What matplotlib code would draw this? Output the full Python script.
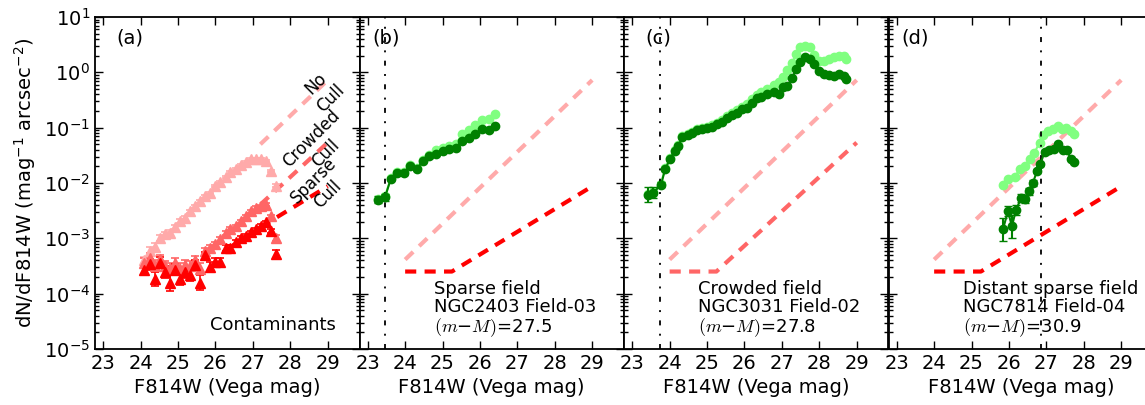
import numpy as np
import matplotlib
matplotlib.use('Agg')
import matplotlib.pyplot as plt

plt.rcParams['font.family'] = 'DejaVu Sans'
plt.rcParams['mathtext.fontset'] = 'cm'
plt.rcParams['mathtext.default'] = 'regular'
plt.rcParams['lines.scale_dashes'] = False

################################################################################
# data (log10 of dN/dF814W)
################################################################################
# panel (a): contaminants
mag_a = [24.10, 24.24, 24.38, 24.51, 24.65, 24.78, 24.92, 25.05, 25.19, 25.32,
         25.46, 25.59, 25.73, 25.86, 26.00, 26.13, 26.27, 26.40, 26.54, 26.67,
         26.81, 26.94, 27.08, 27.21, 27.35, 27.48, 27.62]
nocull_a = [-3.40, -3.22, -3.15, -2.99, -2.93, -2.90, -2.79, -2.69, -2.63, -2.51,
            -2.42, -2.33, -2.24, -2.18, -2.06, -1.98, -1.89, -1.81, -1.74, -1.68,
            -1.62, -1.57, -1.56, -1.57, -1.60, -1.78, -2.05]
nocull_err = [0.07, 0.06, 0.06, 0.05, 0.05, 0.05, 0.04, 0.04, 0.04, 0.03,
              0.03, 0.03, 0.03, 0.02, 0.02, 0.02, 0.02, 0.02, 0.02, 0.02,
              0.02, 0.02, 0.02, 0.02, 0.02, 0.02, 0.03]
crowd_a = [-3.45, -3.35, -3.50, -3.38, -3.50, -3.55, -3.45, -3.55, -3.48, -3.50,
           -3.40, -3.55, -3.23, -3.18, -3.11, -3.02, -2.90, -2.84, -2.78, -2.69,
           -2.60, -2.51, -2.45, -2.42, -2.39, -2.60, -2.99]
crowd_err = [0.09, 0.08, 0.10, 0.08, 0.09, 0.10, 0.09, 0.10, 0.09, 0.09,
             0.08, 0.10, 0.06, 0.06, 0.05, 0.05, 0.04, 0.04, 0.03, 0.03,
             0.03, 0.03, 0.03, 0.03, 0.03, 0.03, 0.05]
sparse_a = [-3.57, -3.47, -3.73, -3.44, -3.61, -3.81, -3.57, -3.73, -3.61, -3.66,
            -3.49, -3.80, -3.31, -3.52, -3.43, -3.43, -3.17, -3.17, -3.07, -2.99,
            -2.96, -2.89, -2.84, -2.77, -2.71, -2.87, -3.29]
sparse_err = [0.10, 0.10, 0.13, 0.10, 0.11, 0.14, 0.10, 0.12, 0.10, 0.11,
              0.09, 0.14, 0.07, 0.09, 0.08, 0.08, 0.05, 0.05, 0.04, 0.04,
              0.03, 0.03, 0.03, 0.03, 0.03, 0.04, 0.08]

# contaminant model lines (mag knots, log10 values)
model_mag = [24.0, 25.25, 29.0]
nocull_model = [-3.384, -2.572, -0.14]
crowd_model = [-3.60, -3.60, -1.27]
sparse_model = [-3.60, -3.60, -2.06]
model_mag_a = [27.2, 29.0]
nocull_model_a = [-1.30, -0.14]
crowd_model_a = [-2.39, -1.27]
sparse_model_a = [-2.80, -2.06]

# panel (b): NGC2403 Field-03
mag_b = [23.28, 23.46, 23.62, 23.79, 23.97, 24.13, 24.31, 24.49, 24.65, 24.83,
         25.01, 25.17, 25.35, 25.53, 25.71, 25.87, 26.05, 26.23, 26.39]
all_b = [-2.29, -2.24, -1.91, -1.81, -1.80, -1.68, -1.72, -1.58, -1.49, -1.40,
         -1.36, -1.33, -1.30, -1.12, -1.05, -0.96, -0.87, -0.84, -0.76]
cull_b = [-2.30, -2.26, -1.92, -1.82, -1.82, -1.69, -1.74, -1.60, -1.52, -1.48,
          -1.42, -1.38, -1.36, -1.24, -1.18, -1.11, -1.03, -1.05, -0.97]
err_b = [0.06, 0.06, 0.03, 0.03, 0.03, 0.02, 0.02, 0.02, 0.02, 0.02,
         0.02, 0.02, 0.02, 0.01, 0.01, 0.01, 0.01, 0.01, 0.01]

# panel (c): NGC3031 Field-02
mag_c = [23.43, 23.56, 23.77, 23.88, 24.01, 24.13, 24.23, 24.34, 24.48, 24.61,
         24.73, 24.86, 25.00, 25.14, 25.27, 25.40, 25.54, 25.67, 25.81, 25.94,
         26.07, 26.21, 26.34, 26.45, 26.60, 26.78, 26.91, 27.04, 27.15, 27.27,
         27.38, 27.49, 27.63, 27.76, 27.87, 27.98, 28.12, 28.25, 28.39, 28.52,
         28.65, 28.72]
all_c = [-2.20, -2.16, -2.01, -1.73, -1.55, -1.40, -1.31, -1.15, -1.11, -1.07,
         -1.03, -1.00, -0.98, -0.95, -0.91, -0.86, -0.79, -0.73, -0.68, -0.62,
         -0.58, -0.49, -0.41, -0.36, -0.30, -0.22, -0.18, -0.09, 0.04, 0.16,
         0.33, 0.46, 0.48, 0.45, 0.31, 0.21, 0.21, 0.24, 0.27, 0.30,
         0.29, 0.25]
cull_c = [-2.21, -2.18, -2.03, -1.75, -1.57, -1.42, -1.33, -1.17, -1.13, -1.09,
          -1.05, -1.02, -1.00, -0.98, -0.94, -0.89, -0.83, -0.77, -0.73, -0.67,
          -0.64, -0.55, -0.47, -0.44, -0.39, -0.36, -0.39, -0.27, -0.24, -0.11,
          0.06, 0.18, 0.27, 0.25, 0.15, 0.03, -0.03, -0.05, -0.06, -0.03,
          -0.07, -0.12]
err_c = [0.13, 0.10, 0.05, 0.03, 0.02, 0.02, 0.02, 0.01, 0.01, 0.01,
         0.01, 0.01, 0.01, 0.01, 0.01, 0.01, 0.01, 0.01, 0.01, 0.01,
         0.01, 0.01, 0.01, 0.01, 0.01, 0.01, 0.01, 0.01, 0.01, 0.01,
         0.01, 0.01, 0.01, 0.01, 0.01, 0.01, 0.01, 0.01, 0.01, 0.01,
         0.01, 0.01]

# panel (d): NGC7814 Field-04
mag_d_all = [25.84, 25.97, 26.15, 26.29, 26.44, 26.55, 26.68, 26.82, 26.91, 27.04,
             27.17, 27.31, 27.42, 27.53, 27.65, 27.74]
all_d = [-2.03, -1.93, -1.89, -1.75, -1.70, -1.57, -1.45, -1.27, -1.14, -1.06,
         -1.03, -0.97, -1.03, -1.00, -1.06, -1.12]
mag_d = [25.84, 25.97, 26.08, 26.19, 26.33, 26.44, 26.53, 26.64, 26.75, 26.84,
         26.95, 27.08, 27.20, 27.31, 27.45, 27.55, 27.65, 27.74]
cull_d = [-2.84, -2.51, -2.78, -2.48, -2.27, -2.29, -2.15, -2.00, -1.78, -1.66,
          -1.44, -1.40, -1.38, -1.30, -1.40, -1.41, -1.56, -1.62]
err_d = [0.20, 0.09, 0.21, 0.09, 0.08, 0.08, 0.06, 0.05, 0.04, 0.03,
         0.03, 0.03, 0.03, 0.02, 0.02, 0.02, 0.02, 0.02]

trgb = [None, 23.45, 23.75, 26.85]
labels = ['(a)', '(b)', '(c)', '(d)']
notes = [None,
         'Sparse field\nNGC2403 Field-03\n$\\mathrm{(}\\mathit{m}{-}\\mathit{M}\\mathrm{)}$=27.5',
         'Crowded field\nNGC3031 Field-02\n$\\mathrm{(}\\mathit{m}{-}\\mathit{M}\\mathrm{)}$=27.8',
         'Distant sparse field\nNGC7814 Field-04\n$\\mathrm{(}\\mathit{m}{-}\\mathit{M}\\mathrm{)}$=30.9']

PINK = '#FFAAAA'
SALMON = '#FF6666'
RED = '#FF0000'
DKGREEN = '#008000'
LTGREEN = '#80FF80'


def lin(logv):
    return 10 ** np.array(logv)


def dexerr(logv, e):
    logv = np.array(logv)
    e = np.array(e)
    v = 10 ** logv
    return [v - 10 ** (logv - e), 10 ** (logv + e) - v]


################################################################################
# figure
################################################################################
fig = plt.figure(figsize=(11.45, 4.05), dpi=100)
x0 = 95 / 1145.
w = 264.5 / 1145.
b0 = 56 / 405.
h = 332 / 405.
axes = [fig.add_axes([x0 + i * w, b0, w, h]) for i in range(4)]

dash = dict(lw=3, dashes=(8, 6))

# (a)
ax = axes[0]
ax.plot(model_mag_a, lin(nocull_model_a), color=PINK, **dash)
ax.plot(model_mag_a, lin(crowd_model_a), color=SALMON, **dash)
ax.plot(model_mag_a, lin(sparse_model_a), color=RED, **dash)
for vals, err, col in [(nocull_a, nocull_err, PINK), (crowd_a, crowd_err, SALMON),
                       (sparse_a, sparse_err, RED)]:
    ax.errorbar(mag_a, lin(vals), yerr=dexerr(vals, err), fmt='^', color=col,
                mec=col, ms=6.5, elinewidth=1.2, capsize=3, capthick=1.2)
ax.text(28.89, 10 ** -0.34, 'No\nCull', rotation=45, ha='center', va='center',
        multialignment='center', fontsize=12)
ax.text(28.75, 10 ** -1.34, 'Crowded\nCull', rotation=45, ha='center', va='center',
        multialignment='center', fontsize=12)
ax.text(28.81, 10 ** -2.08, 'Sparse\nCull', rotation=45, ha='center', va='center',
        multialignment='center', fontsize=12)
ax.text(0.91, 0.045, 'Contaminants', transform=ax.transAxes, ha='right',
        va='bottom', fontsize=13)

# (b)-(d)
cull_models = [None, sparse_model, crowd_model, sparse_model]
cull_cols = [None, RED, SALMON, RED]
green = [None, (mag_b, all_b, mag_b, cull_b, err_b),
         (mag_c, all_c, mag_c, cull_c, err_c),
         (mag_d_all, all_d, mag_d, cull_d, err_d)]
for i in range(1, 4):
    ax = axes[i]
    ax.plot(model_mag, lin(nocull_model), color=PINK, **dash)
    ax.plot(model_mag, lin(cull_models[i]), color=cull_cols[i], **dash)
    m1, v1, m2, v2, e2 = green[i]
    ax.plot(m1, lin(v1), '-o', color=LTGREEN, mec=LTGREEN, ms=6, lw=1.5)
    ax.errorbar(m2, lin(v2), yerr=dexerr(v2, e2), fmt='-o', color=DKGREEN,
                mec=DKGREEN, ms=6, lw=1.5, elinewidth=1.5, capsize=3)
    ax.axvline(trgb[i], color='k', lw=1.3, dashes=(3.6, 6, 1.4, 6))
    ax.text(0.28, 0.03, notes[i], transform=ax.transAxes, ha='left',
            va='bottom', fontsize=13, linespacing=1.0)

for i, ax in enumerate(axes):
    ax.set_yscale('log')
    ax.set_ylim(1e-5, 10)
    ax.set_xlim(22.78, 29.85)
    ax.set_xticks(range(23, 30))
    ax.tick_params(which='both', direction='in', top=True, right=True,
                   labelsize=14, width=1)
    ax.tick_params(which='major', length=6)
    ax.tick_params(which='minor', length=3)
    for s in ax.spines.values():
        s.set_linewidth(1.3)
    ax.set_xlabel('F814W (Vega mag)', fontsize=14)
    ax.text(0.08 if i in (0, 2) else 0.05, 0.937, labels[i], transform=ax.transAxes,
            ha='left', va='center', fontsize=14)
    if i > 0:
        ax.tick_params(labelleft=False)

axes[0].set_ylabel('dN/dF814W (mag$^{-1}$ arcsec$^{-2}$)', fontsize=14)

fig.savefig('out.png', dpi=100)
